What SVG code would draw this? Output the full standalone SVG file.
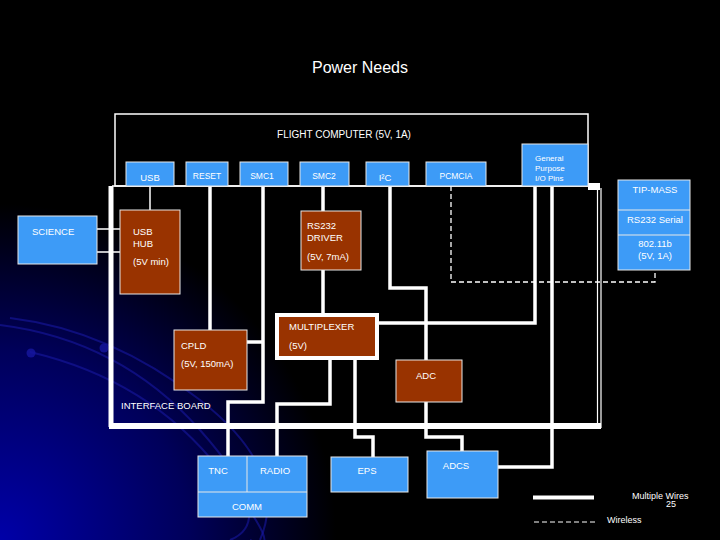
<svg xmlns="http://www.w3.org/2000/svg" width="720" height="540" viewBox="0 0 720 540">
<defs>
<radialGradient id="bg" cx="0" cy="540" r="420" gradientUnits="userSpaceOnUse">
<stop offset="0" stop-color="#0000a8"/>
<stop offset="0.45" stop-color="#00005a"/>
<stop offset="0.8" stop-color="#000000"/>
</radialGradient>
<style>
.t{font-family:"Liberation Sans",Arial,sans-serif;fill:#ffffff;font-size:9.5px}
.blue{fill:#3d9bf7;stroke:#e8e8e8;stroke-width:1}
.brown{fill:#993300;stroke:#e8e8e8;stroke-width:1}
.w{fill:none;stroke:#ffffff;stroke-width:3.5}
.thin{fill:none;stroke:#ffffff;stroke-width:1.5}
.arc{fill:none;stroke:#1818a0;stroke-width:2;opacity:0.6}
</style>
</defs>
<rect width="720" height="540" fill="#000"/>
<rect width="720" height="540" fill="url(#bg)"/>
<g id="background-arcs">
<path class="arc" d="M10 318 Q110 330 200 400 T260 540"/>
<path class="arc" d="M0 325 Q120 340 200 430 T230 540"/>
<path class="arc" d="M30 352 Q150 380 220 470 T250 540"/>
<circle cx="31" cy="353" r="4.5" fill="#1616a0" opacity="0.8"/>
<circle cx="104" cy="348" r="4.5" fill="#1616a0" opacity="0.8"/>
</g>
<text class="t" x="360" y="73" text-anchor="middle" style="font-size:16px">Power Needs</text>
<g id="flight-computer">
<rect x="115" y="114" width="473" height="72" fill="none" stroke="#fff" stroke-width="1.5"/>
<text class="t" x="344" y="138" text-anchor="middle" style="font-size:10px">FLIGHT COMPUTER (5V, 1A)</text>
</g>
<g id="interface-board">
<path d="M111 186 V427" stroke="#fff" stroke-width="5" fill="none"/>
<path d="M109 426 H601" stroke="#fff" stroke-width="6" fill="none"/>
<path d="M112 186 H588" class="thin"/>
<rect x="588" y="183" width="12" height="7" fill="#fff"/>
<path d="M597.5 188 V428 M601 188 V428" stroke="#fff" stroke-width="1.2" fill="none"/>
<text class="t" x="121" y="409">INTERFACE BOARD</text>
</g>
<g id="connectors">
<path class="thin" d="M150 186 V210"/>
<path class="thin" d="M97 229 H120 M97 252 H120"/>
<path class="w" d="M210 186 V330"/>
<path class="w" d="M263 186 V402 H228 V457"/>
<path class="w" d="M247 342 H263"/>
<path class="w" d="M323 186 V211 M323 270 V313"/>
<path class="w" d="M390 186 V288 H426 V360"/>
<path class="w" d="M535 186 V323 H378"/>
<path class="w" d="M552 186 V467 H498"/>
<path class="w" d="M330 359 V404 H277 V457"/>
<path class="w" d="M355 359 V437 H373 V457"/>
<path class="w" d="M426 402 V437 H462 V451"/>
<path d="M451 186 V282 H655 V270" fill="none" stroke="#fff" stroke-width="1.3" stroke-dasharray="5 3"/>
</g>
<g id="usb"><rect class="blue" x="126" y="162" width="48" height="24"/><text class="t" x="150" y="181" text-anchor="middle">USB</text></g>
<g id="reset"><rect class="blue" x="186" y="162" width="42" height="24"/><text class="t" x="207" y="179" text-anchor="middle" style="font-size:8.5px">RESET</text></g>
<g id="smc1"><rect class="blue" x="240" y="162" width="48" height="24"/><text class="t" x="262" y="179" text-anchor="middle" style="font-size:8.5px">SMC1</text></g>
<g id="smc2"><rect class="blue" x="300" y="162" width="49" height="24"/><text class="t" x="324" y="179" text-anchor="middle" style="font-size:8.5px">SMC2</text></g>
<g id="i2c"><rect class="blue" x="366" y="162" width="43" height="24"/><text class="t" x="385" y="181" text-anchor="middle">I²C</text></g>
<g id="pcmcia"><rect class="blue" x="426" y="162" width="60" height="24"/><text class="t" x="456" y="179" text-anchor="middle" style="font-size:8.5px">PCMCIA</text></g>
<g id="gpio"><rect class="blue" x="522" y="144" width="66" height="42"/>
<text class="t" x="535" y="161" style="font-size:8px">General</text>
<text class="t" x="535" y="171" style="font-size:8px">Purpose</text>
<text class="t" x="535" y="181" style="font-size:8px">I/O Pins</text></g>
<g id="tip-mass"><rect class="blue" x="618" y="180" width="72" height="90"/>
<path d="M618 210 H690 M618 235 H690" stroke="#e8e8e8" stroke-width="1"/>
<text class="t" x="655" y="193" text-anchor="middle">TIP-MASS</text>
<text class="t" x="655" y="223" text-anchor="middle">RS232 Serial</text>
<text class="t" x="655" y="247" text-anchor="middle">802.11b</text>
<text class="t" x="655" y="259" text-anchor="middle">(5V, 1A)</text></g>
<g id="science"><rect class="blue" x="18" y="216" width="79" height="48"/><text class="t" x="32" y="235">SCIENCE</text></g>
<g id="usb-hub"><rect class="brown" x="120" y="210" width="60" height="84"/>
<text class="t" x="133" y="235">USB</text><text class="t" x="133" y="247">HUB</text><text class="t" x="133" y="265">(5V min)</text></g>
<g id="rs232-driver"><rect class="brown" x="301" y="211" width="60" height="59"/>
<text class="t" x="307" y="229">RS232</text><text class="t" x="307" y="241">DRIVER</text><text class="t" x="307" y="260">(5V, 7mA)</text></g>
<g id="multiplexer"><rect x="277" y="315" width="100" height="43" fill="#993300" stroke="#fff" stroke-width="4"/>
<text class="t" x="289" y="330">MULTIPLEXER</text><text class="t" x="289" y="349">(5V)</text></g>
<g id="cpld"><rect class="brown" x="174" y="330" width="73" height="60"/>
<text class="t" x="181" y="349">CPLD</text><text class="t" x="181" y="367">(5V, 150mA)</text></g>
<g id="adc"><rect class="brown" x="396" y="360" width="66" height="42"/><text class="t" x="426" y="379" text-anchor="middle">ADC</text></g>
<g id="comm"><rect class="blue" x="198" y="456" width="109" height="61"/>
<path d="M198 492 H307 M247 456 V492" stroke="#e8e8e8" stroke-width="1"/>
<text class="t" x="218" y="474" text-anchor="middle">TNC</text>
<text class="t" x="275" y="474" text-anchor="middle">RADIO</text>
<text class="t" x="247" y="510" text-anchor="middle">COMM</text></g>
<g id="eps"><rect class="blue" x="331" y="457" width="77" height="35"/><text class="t" x="367" y="474" text-anchor="middle">EPS</text></g>
<g id="adcs"><rect class="blue" x="427" y="451" width="71" height="47"/><text class="t" x="456" y="469" text-anchor="middle">ADCS</text></g>
<g id="legend">
<path d="M533 497.5 H594" stroke="#fff" stroke-width="4"/>
<text class="t" x="632" y="499" style="font-size:9px">Multiple Wires</text>
<text class="t" x="666" y="507" style="font-size:9px">25</text>
<path d="M534 522 H595" stroke="#fff" stroke-width="1" stroke-dasharray="5 3"/>
<text class="t" x="607" y="523" style="font-size:9px">Wireless</text>
</g>
</svg>
